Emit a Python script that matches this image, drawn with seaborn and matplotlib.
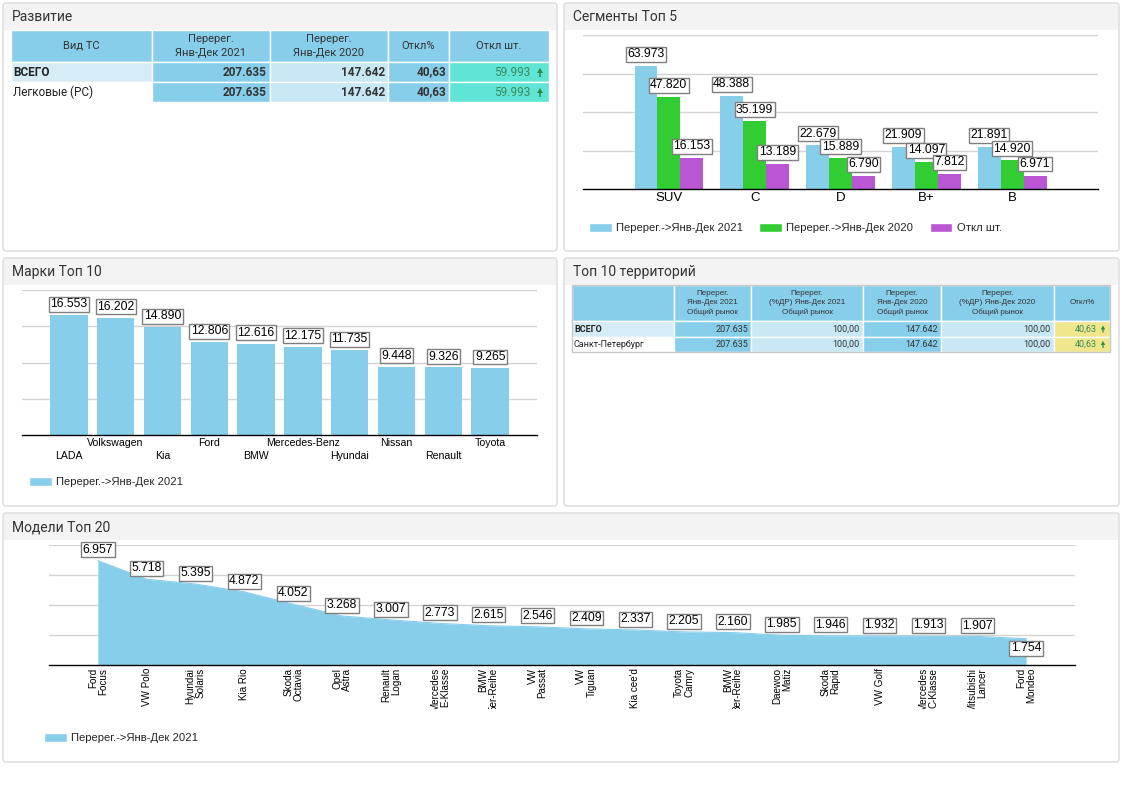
import matplotlib
matplotlib.use("Agg")
import matplotlib.pyplot as plt
import seaborn as sns
import pandas as pd
from matplotlib.patches import Rectangle, FancyBboxPatch, Patch
from matplotlib.transforms import Bbox, TransformedBbox

W, H = 1122, 793

SKY = "#87CEEB"
LIGHT = "#c8e8f5"
LIGHT2 = "#d5ecf6"
TURQ = "#60e4d6"
KHAKI = "#f0e68c"
GREEN_TXT = "#3a8a5a"
TXT = "#333333"

# --- data: Развитие ---
dev_header = ["Вид ТС", "Перерег.\nЯнв-Дек 2021", "Перерег.\nЯнв-Дек 2020", "Откл%", "Откл шт."]
dev_rows = ["ВСЕГО", "Легковые (PC)"]
dev_2021 = [207635, 207635]
dev_2020 = [147642, 147642]
dev_pct = [40.63, 40.63]
dev_diff = [59993, 59993]

# --- data: Сегменты Топ 5 ---
segments = ["SUV", "C", "D", "B+", "B"]
seg_2021 = [63973, 48388, 22679, 21909, 21891]
seg_2020 = [47820, 35199, 15889, 14097, 14920]
seg_diff = [16153, 13189, 6790, 7812, 6971]
seg_series = ["Перерег.->Янв-Дек 2021", "Перерег.->Янв-Дек 2020", "Откл шт."]
seg_colors = ["#87CEEB", "#32CD32", "#BA55D3"]

# --- data: Марки Топ 10 ---
brands = ["LADA", "Volkswagen", "Kia", "Ford", "BMW", "Mercedes-Benz",
          "Hyundai", "Nissan", "Renault", "Toyota"]
brand_vals = [16553, 16202, 14890, 12806, 12616, 12175, 11735, 9448, 9326, 9265]

# --- data: Топ 10 территорий ---
terr_header = ["", "Перерег.\nЯнв-Дек 2021\nОбщий рынок",
               "Перерег.\n(%ДР) Янв-Дек 2021\nОбщий рынок",
               "Перерег.\nЯнв-Дек 2020\nОбщий рынок",
               "Перерег.\n(%ДР) Янв-Дек 2020\nОбщий рынок", "Откл%"]
terr_rows = ["ВСЕГО", "Санкт-Петербург"]
terr_2021 = [207635, 207635]
terr_share21 = [100.00, 100.00]
terr_2020 = [147642, 147642]
terr_share20 = [100.00, 100.00]
terr_pct = [40.63, 40.63]

# --- data: Модели Топ 20 ---
models = ["Ford\nFocus", "VW Polo", "Hyundai\nSolaris", "Kia Rio", "Skoda\nOctavia",
          "Opel\nAstra", "Renault\nLogan", "Mercedes\nE-Klasse", "BMW\n5er-Reihe",
          "VW\nPassat", "VW\nTiguan", "Kia cee'd", "Toyota\nCamry", "BMW\n3er-Reihe",
          "Daewoo\nMatiz", "Skoda\nRapid", "VW Golf", "Mercedes\nC-Klasse",
          "Mitsubishi\nLancer", "Ford\nMondeo"]
model_vals = [6957, 5718, 5395, 4872, 4052, 3268, 3007, 2773, 2615, 2546,
              2409, 2337, 2205, 2160, 1985, 1946, 1932, 1913, 1907, 1754]


def thous(v):
    return f"{v:,}".replace(",", ".")


def dec(v):
    return f"{v:.2f}".replace(".", ",")


sns.set_theme(style="white")
plt.rcParams["font.family"] = ["Liberation Sans", "DejaVu Sans"]

fig = plt.figure(figsize=(W / 100, H / 100), dpi=100)
bg = fig.add_axes([0, 0, 1, 1])
bg.set_xlim(0, W)
bg.set_ylim(H, 0)
bg.axis("off")


def panel(x0, y0, x1, y1, title):
    bg.add_patch(FancyBboxPatch((x0, y0), x1 - x0, y1 - y0,
                                boxstyle="round,pad=0,rounding_size=3",
                                fc="white", ec="#d9d9d9", lw=1))
    bg.add_patch(Rectangle((x0 + 1, y0 + 1), x1 - x0 - 2, 26, fc="#f3f3f3", ec="none"))
    bg.text(x0 + 9, y0 + 14, title, fontsize=10, family="Roboto", color=TXT, va="center")


def px_axes(x0, y0, x1, y1):
    return fig.add_axes([x0 / W, 1 - y1 / H, (x1 - x0) / W, (y1 - y0) / H])


def style(ax, ymax, step):
    ax.set_ylim(0, ymax)
    ax.set_yticks(range(step, ymax + 1, step))
    ax.set_yticklabels([])
    ax.tick_params(which="both", left=False, length=0)
    ax.grid(axis="y", color="#d4d4d4", lw=1)
    ax.grid(axis="x", visible=False)
    ax.set_axisbelow(True)
    for s in ["left", "right", "top"]:
        ax.spines[s].set_visible(False)
    ax.spines["bottom"].set_color("black")
    ax.spines["bottom"].set_linewidth(1)
    ax.set_xlabel("")
    ax.set_ylabel("")
    ax.patch.set_alpha(0)


def vlabel(ax, x, y, v, dy=4, va="bottom"):
    ax.annotate(thous(v), (x, y), xytext=(0, dy), textcoords="offset points",
                ha="center", va=va, fontsize=8.8, color="black",
                bbox=dict(boxstyle="square,pad=0.12", fc="white", ec="#7f7f7f", lw=1),
                zorder=5, annotation_clip=False)


def up_arrow(x, y):
    bg.arrow(x, y + 4.5, 0, -9, width=1.6, head_width=6, head_length=5,
             length_includes_head=True, color="#2e8b3e", lw=0)


panel(3, 3, 557, 251, "Развитие")
panel(564, 3, 1119, 251, "Сегменты Топ 5")
panel(3, 258, 557, 506, "Марки Топ 10")
panel(564, 258, 1119, 506, "Топ 10 территорий")
panel(3, 513, 1119, 762, "Модели Топ 20")

# ---------------- table: Развитие ----------------
cx = [11, 152, 270, 388, 449, 549]
ry = [30, 62, 82, 102]
for j, h in enumerate(dev_header):
    bg.add_patch(Rectangle((cx[j], ry[0]), cx[j + 1] - cx[j], ry[1] - ry[0], fc=SKY, ec="white", lw=1))
    bg.text((cx[j] + cx[j + 1]) / 2, (ry[0] + ry[1]) / 2, h, ha="center", va="center",
            fontsize=8, family="Roboto", color=TXT, linespacing=1.45)
for i, name in enumerate(dev_rows):
    y0, y1 = ry[i + 1], ry[i + 2]
    ym = (y0 + y1) / 2
    fills = [LIGHT2 if i == 0 else "white", SKY, LIGHT, SKY, TURQ]
    for j in range(5):
        bg.add_patch(Rectangle((cx[j], y0), cx[j + 1] - cx[j], y1 - y0, fc=fills[j], ec="white", lw=1))
    bg.text(cx[0] + 2, ym, name, ha="left", va="center", fontsize=8.5, family="Roboto",
            color="#222222", fontweight="bold" if i == 0 else "normal")
    vals = [thous(dev_2021[i]), thous(dev_2020[i]), dec(dev_pct[i])]
    for j, t in enumerate(vals, start=1):
        bg.text(cx[j + 1] - 3, ym, t, ha="right", va="center", fontsize=8.5,
                family="Roboto", fontweight="bold", color="#333333")
    bg.text(cx[5] - 19, ym, thous(dev_diff[i]), ha="right", va="center", fontsize=8.5,
            family="Roboto", color=GREEN_TXT)
    up_arrow(cx[5] - 9, ym + 0.5)

# ---------------- table: Топ 10 территорий ----------------
tx = [572, 674, 751, 863, 941, 1054, 1110]
ty = [285, 321, 337, 352]
for j, h in enumerate(terr_header):
    bg.add_patch(Rectangle((tx[j], ty[0]), tx[j + 1] - tx[j], ty[1] - ty[0], fc=SKY, ec="white", lw=1))
    bg.text((tx[j] + tx[j + 1]) / 2, (ty[0] + ty[1]) / 2, h, ha="center", va="center",
            fontsize=5.8, color=TXT, linespacing=1.45)
for i, name in enumerate(terr_rows):
    y0, y1 = ty[i + 1], ty[i + 2]
    ym = (y0 + y1) / 2
    fills = [LIGHT2 if i == 0 else "white", SKY, LIGHT, SKY, LIGHT, KHAKI]
    for j in range(6):
        bg.add_patch(Rectangle((tx[j], y0), tx[j + 1] - tx[j], y1 - y0, fc=fills[j], ec="white", lw=1))
    bg.text(tx[0] + 2, ym, name, ha="left", va="center", fontsize=6.5, family="Roboto",
            color="#222222", fontweight="bold" if i == 0 else "normal")
    vals = [thous(terr_2021[i]), dec(terr_share21[i]), thous(terr_2020[i]), dec(terr_share20[i])]
    for j, t in enumerate(vals, start=1):
        bg.text(tx[j + 1] - 3, ym, t, ha="right", va="center", fontsize=6.5,
                family="Roboto", color="#333333")
    bg.text(tx[6] - 13, ym, dec(terr_pct[i]), ha="right", va="center", fontsize=6.5,
            family="Roboto", color=GREEN_TXT)
    bg.arrow(tx[6] - 7, ym + 3.5, 0, -7, width=1.2, head_width=4.5, head_length=4,
             length_includes_head=True, color="#2e8b3e", lw=0)
bg.add_patch(Rectangle((tx[0], ty[0]), tx[-1] - tx[0], ty[-1] - ty[0], fc="none", ec="#c8c8c8", lw=1))

# ---------------- Сегменты Топ 5 ----------------
seg_df = pd.concat([
    pd.DataFrame({"Сегмент": segments, "Ряд": seg_series[0], "Значение": seg_2021}),
    pd.DataFrame({"Сегмент": segments, "Ряд": seg_series[1], "Значение": seg_2020}),
    pd.DataFrame({"Сегмент": segments, "Ряд": seg_series[2], "Значение": seg_diff}),
])
ax1 = px_axes(583, 35, 1098, 189)
sns.barplot(data=seg_df, x="Сегмент", y="Значение", hue="Ряд", palette=seg_colors,
            width=0.8, saturation=1, linewidth=0, errorbar=None, legend=False, ax=ax1)
ax1.set_xlim(-1, 5)
style(ax1, 80000, 20000)
ax1.tick_params(axis="x", labelsize=9.5, pad=2, colors="black")
for cont in ax1.containers:
    for bar in cont:
        vlabel(ax1, bar.get_x() + bar.get_width() / 2, bar.get_height(), int(bar.get_height()))
fig.legend(handles=[Patch(fc=c, label=l) for c, l in zip(seg_colors, seg_series)],
           loc="center left", bbox_to_anchor=(589 / W, 1 - 228 / H), ncol=3, frameon=False,
           fontsize=8.1, handlelength=2.0, handleheight=0.8, handletextpad=0.4,
           columnspacing=1.45, borderaxespad=0, borderpad=0)

# ---------------- Марки Топ 10 ----------------
brand_df = pd.DataFrame({"Марка": brands, "Значение": brand_vals})
ax2 = px_axes(22, 290, 537, 435)
sns.barplot(data=brand_df, x="Марка", y="Значение", color=SKY, width=0.8, saturation=1,
            linewidth=0, errorbar=None, ax=ax2)
ax2.set_xlim(-1, 10)
style(ax2, 20000, 5000)
upper = [i for i in range(len(brands)) if i % 2 == 1]
lower = [i for i in range(len(brands)) if i % 2 == 0]
ax2.set_xticks(upper)
ax2.set_xticklabels([brands[i] for i in upper], fontsize=7.6)
ax2.set_xticks(lower, minor=True)
ax2.set_xticklabels([brands[i] for i in lower], minor=True, fontsize=7.6)
ax2.tick_params(axis="x", which="major", pad=2, colors="black")
ax2.tick_params(axis="x", which="minor", pad=11.5, colors="black")
for bar in ax2.containers[0]:
    vlabel(ax2, bar.get_x() + bar.get_width() / 2, bar.get_height(), int(bar.get_height()), dy=3.5)
fig.legend(handles=[Patch(fc=SKY, label=seg_series[0])], loc="center left",
           bbox_to_anchor=(29 / W, 1 - 482 / H), frameon=False, fontsize=8.1,
           handlelength=2.0, handleheight=0.8, handletextpad=0.4, borderaxespad=0, borderpad=0)

# ---------------- Модели Топ 20 ----------------
pos = list(range(len(models)))
ax3 = px_axes(49, 545, 1075, 665)
ax3.fill_between(pos, model_vals, color=SKY, lw=0)
sns.lineplot(x=pos, y=model_vals, color=SKY, lw=0.8, ax=ax3)
ax3.set_xlim(-1, 20)
style(ax3, 8000, 2000)
ax3.set_xticks(pos)
ax3.set_xticklabels(models, rotation=90, fontsize=7.1, linespacing=1.0,
                    multialignment="right")
ax3.tick_params(axis="x", pad=2, colors="black")
clip = TransformedBbox(Bbox([[0, 1 - 709 / H], [1, 1]]), fig.transFigure)
for lbl in ax3.get_xticklabels():
    lbl.set_clip_on(True)
    lbl.set_clip_box(clip)
for i, v in enumerate(model_vals):
    if i == len(model_vals) - 1:
        vlabel(ax3, i, v, v, dy=-2.5, va="top")
    else:
        vlabel(ax3, i, v, v, dy=3.5)
fig.legend(handles=[Patch(fc=SKY, label=seg_series[0])], loc="center left",
           bbox_to_anchor=(44 / W, 1 - 738 / H), frameon=False, fontsize=8.1,
           handlelength=2.0, handleheight=0.8, handletextpad=0.4, borderaxespad=0, borderpad=0)

fig.savefig("out.png", dpi=100)
